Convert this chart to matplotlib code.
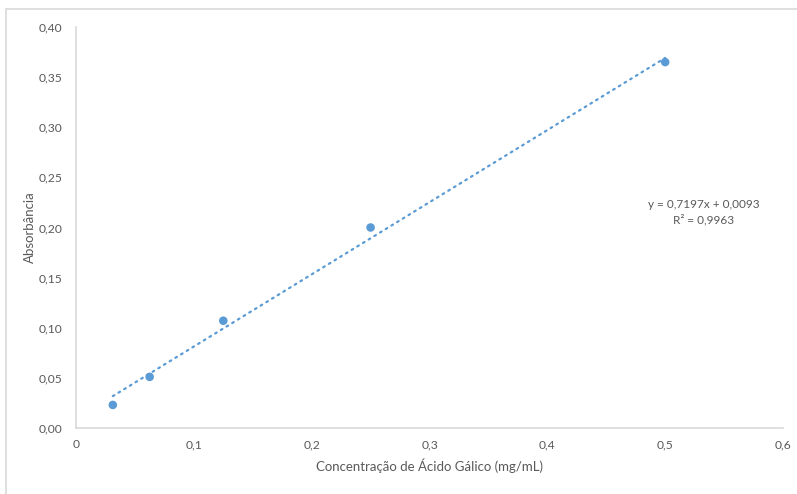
import matplotlib.pyplot as plt
from matplotlib.patches import Rectangle
from matplotlib.ticker import FuncFormatter
import numpy as np

# concentração (mg/mL) e absorbância medida
conc = [0.03125, 0.0625, 0.125, 0.25, 0.5]
absorb = [0.023, 0.051, 0.107, 0.200, 0.365]

# coeficientes da reta de calibração
slope = 0.7197
intercept = 0.0093
r2 = 0.9963

plt.rcParams['font.family'] = ['Lato', 'DejaVu Sans']
gray_txt = '#595959'
gray_line = '#d9d9d9'
blue = '#5b9bd5'

fig = plt.figure(figsize=(7.97, 4.94), dpi=100)
fig.patches.append(Rectangle((6 / 797, -0.1), 1.2, 1 - 9 / 494 + 0.1,
                             transform=fig.transFigure, fill=False,
                             edgecolor=gray_line, linewidth=1.2))
ax = fig.add_axes([76 / 797, 1 - 428 / 494, 707 / 797, 401 / 494])

xt = np.linspace(conc[0], conc[-1], 50)
ax.plot(xt, slope * xt + intercept, linestyle=(0, (0.8, 2.2)), color=blue,
        linewidth=1.6, dash_capstyle='round')
ax.scatter(conc, absorb, s=38, color=blue, zorder=3, edgecolors='none')

ax.set_xlim(0, 0.6)
ax.set_ylim(0, 0.40)
ax.set_xticks(np.arange(0, 0.61, 0.1))
ax.set_yticks(np.arange(0, 0.401, 0.05))

def fmt_x(v, pos):
    return '0' if abs(v) < 1e-9 else f'{v:.1f}'.replace('.', ',')

def fmt_y(v, pos):
    return f'{v:.2f}'.replace('.', ',')

ax.xaxis.set_major_formatter(FuncFormatter(fmt_x))
ax.yaxis.set_major_formatter(FuncFormatter(fmt_y))
ax.tick_params(length=0, labelsize=8.7, labelcolor=gray_txt)
ax.tick_params(axis='y', pad=10)
ax.tick_params(axis='x', pad=8)

for side in ['top', 'right']:
    ax.spines[side].set_visible(False)
for side in ['left', 'bottom']:
    ax.spines[side].set_color(gray_line)
    ax.spines[side].set_linewidth(1.2)

ax.set_xlabel('Concentração de Ácido Gálico (mg/mL)', fontsize=9.5,
              color=gray_txt, labelpad=6)
ax.set_ylabel('Absorbância', fontsize=9.5, color=gray_txt)
ax.yaxis.set_label_coords(-0.057, 0.5)

eq = f'y = {slope:.4f}x + {intercept:.4f}'.replace('.', ',')
r2_txt = f'R² = {r2:.4f}'.replace('.', ',')
ax.text(0.5325, 0.2153, eq + '\n' + r2_txt, ha='center', va='center',
        fontsize=8.5, color=gray_txt, linespacing=1.35)

fig.savefig('out.png', dpi=100)
